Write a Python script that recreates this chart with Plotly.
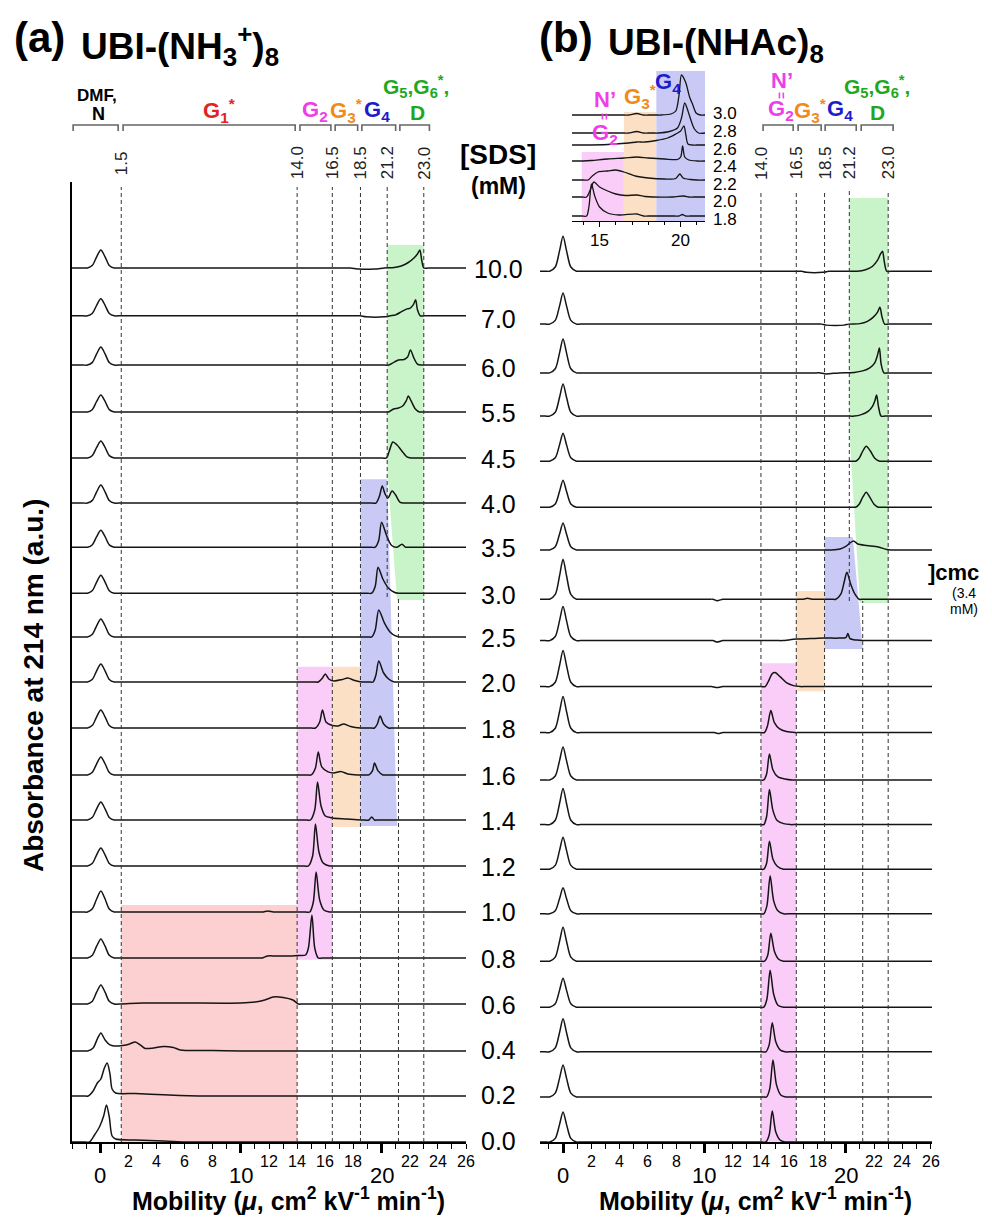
import plotly.graph_objects as go

W, H = 992, 1223
PAGE_MARGIN = 8  # browser body margin around the figure

# ---------------- data ----------------
SDS_LABELS = ["10.0", "7.0", "6.0", "5.5", "4.5", "4.0", "3.5", "3.0", "2.5", "2.0",
              "1.8", "1.6", "1.4", "1.2", "1.0", "0.8", "0.6", "0.4", "0.2", "0.0"]
# baseline offsets (in trace-step units) of each electropherogram
BASE_A = [19.0, 17.96, 16.89, 15.87, 14.87, 13.89, 12.93, 11.93, 10.98, 10.0,
          9.0, 7.98, 7.0, 6.0, 5.0, 4.0, 3.0, 1.98, 1.0, 0.0]
BASE_B = [18.93, 17.78, 16.72, 15.78, 14.8, 13.8, 12.87, 11.8, 10.9, 9.9,
          8.9, 7.87, 6.9, 5.93, 4.96, 3.93, 2.93, 1.96, 0.98, 0.0]
# DMF (neutral marker) peak heights, px
DMF_A = [18, 17, 18, 17, 17, 18, 17, 18, 18, 18, 18, 18, 18, 18, 21, 19, 19, 0, 0, 0]
DMF_B = [35, 31, 34, 32, 28, 27, 27, 40, 34, 36, 36, 33, 36, 32, 26, 34, 29, 33, 32, 30]

# other features: (mobility, height px)
PEAKS_A = [
    [(17.8, 0), (18.4, -1), (19.5, -1), (20.2, 0), (20.9, 0.5), (21.4, 2), (21.9, 5.5), (22.3, 10), (22.55, 14), (22.72, 18), (22.85, 8), (23.0, 0)],
    [(18.5, 0), (18.9, -1), (20.2, -1), (20.6, 0), (21.0, 1), (21.4, 4), (21.8, 7), (22.0, 7.5), (22.25, 11), (22.42, 16), (22.55, 6), (22.75, 0)],
    [(20.5, 0), (20.9, 3), (21.2, 5), (21.6, 5.5), (21.85, 8), (22.05, 15), (22.3, 7), (22.55, 1), (22.8, 0)],
    [(20.5, 0), (20.85, 3), (21.2, 4), (21.5, 6), (21.75, 11), (21.9, 16), (22.1, 11), (22.4, 3), (22.7, 0)],
    [(20.35, 0), (20.55, 7), (20.8, 16), (21.1, 13), (21.5, 6), (21.8, 1), (22.1, 0)],
    [(19.6, 0), (19.85, 7), (20.05, 17), (20.25, 9), (20.45, 5), (20.75, 12), (21.0, 8), (21.3, 1), (21.6, 0)],
    [(19.55, 0), (19.8, 7), (20.0, 25), (20.35, 12), (20.7, 2), (21.1, 0), (21.45, 3), (21.7, 0)],
    [(19.3, 0), (19.55, 7), (19.75, 26), (20.1, 14), (20.5, 5), (20.9, 1), (21.2, 0)],
    [(19.3, 0), (19.55, 7), (19.8, 27), (20.2, 14), (20.6, 5), (21.0, 1), (21.3, 0)],
    [(15.5, 0), (15.8, 4), (16.0, 8), (16.25, 3), (16.6, 1), (17.2, 2.5), (17.6, 4), (18.1, 1.5), (18.6, 0), (19.4, 0), (19.6, 7), (19.8, 21), (20.15, 9), (20.5, 3), (20.9, 0)],
    [(15.3, 0), (15.6, 6), (15.8, 18), (16.05, 6), (16.4, 3), (16.9, 2), (17.3, 4), (17.8, 1.5), (18.5, 0), (19.5, 0), (19.7, 4), (19.9, 12), (20.15, 4), (20.5, 0)],
    [(15.0, 0), (15.3, 7), (15.5, 23), (15.75, 8), (16.2, 3), (16.6, 2), (17.1, 3.5), (17.6, 1), (18.3, 0), (19.1, 0), (19.35, 4), (19.5, 12), (19.75, 4), (20.1, 0)],
    [(14.95, 0), (15.25, 10), (15.45, 38), (15.7, 14), (16.0, 4), (16.5, 2), (17.5, 1), (18.5, 0), (19.1, 0), (19.3, 3), (19.5, 0)],
    [(14.8, 0), (15.1, 10), (15.3, 42), (15.55, 14), (15.85, 3), (16.3, 0)],
    [(11.6, 0), (11.9, 1), (12.3, 0), (14.9, 0), (15.15, 10), (15.35, 40), (15.6, 12), (15.9, 2), (16.3, 0)],
    [(11.5, 0), (11.9, 2), (12.5, 2), (13.5, 2), (14.0, 2.5), (14.6, 3), (14.8, 10), (15.05, 43), (15.25, 10), (15.5, 0)],
    [(1.5, 0), (3.0, 1), (6.0, 1), (10.0, 1), (11.0, 2), (11.7, 4), (12.3, 7), (13.0, 6.5), (13.7, 4), (14.1, 0)],
    [(-0.9, 0), (-0.5, 3), (-0.2, 12), (0.05, 18), (0.35, 11), (0.7, 6), (1.0, 5), (1.6, 5.5), (2.1, 7), (2.5, 9), (2.85, 6), (3.2, 2.5), (3.8, 3), (4.5, 4.5), (5.2, 3.5), (5.7, 1), (8.0, 0.5), (10.0, 0)],
    [(-0.85, 0), (-0.5, 5), (-0.2, 13), (0.05, 17), (0.3, 28), (0.5, 33), (0.7, 22), (0.85, 7), (1.1, 3), (2.5, 2.5), (4.5, 1.2), (7.0, 0)],
    [(-0.75, 0), (-0.4, 7), (-0.05, 15), (0.25, 26), (0.45, 37), (0.65, 25), (0.85, 6), (1.1, 3), (2.5, 2), (4.5, 1), (6.0, 0)],
]

PEAKS_B = [
    [(16.9, 0), (17.2, -1), (18.4, -1), (18.8, 0), (20.8, 0), (21.4, 1.5), (21.9, 5), (22.25, 11), (22.45, 17), (22.6, 20), (22.72, 10), (22.9, 0)],
    [(18.3, 0), (18.6, -1), (19.9, -1), (20.2, 0), (21.0, 0.5), (21.5, 2.5), (21.95, 7), (22.25, 12), (22.42, 17), (22.55, 8), (22.75, 0)],
    [(18.2, 0), (18.6, -1), (19.5, 0), (20.6, 0.5), (21.2, 2), (21.7, 5), (22.05, 10), (22.25, 18), (22.38, 25), (22.5, 9), (22.7, 0)],
    [(20.6, 0), (21.1, 1.5), (21.6, 5), (21.9, 10), (22.05, 15), (22.18, 21), (22.32, 9), (22.5, 0)],
    [(20.7, 0), (20.95, 3), (21.2, 10), (21.45, 15), (21.75, 10), (22.05, 3), (22.4, 0)],
    [(20.7, 0), (20.95, 3), (21.2, 10), (21.45, 15), (21.7, 10), (22.0, 3), (22.3, 0)],
    [(19.0, 0), (19.6, 1), (20.0, 3.5), (20.3, 7), (20.55, 9), (20.85, 6), (21.5, 4.5), (22.3, 3), (22.9, 0.5), (23.2, 0)],
    [(10.6, 0), (10.9, -1.5), (11.3, 0), (17.0, 0), (17.3, 1), (17.6, 0), (19.3, 0), (19.65, 5), (19.9, 18), (20.08, 27), (20.35, 15), (20.65, 5), (20.95, 0)],
    [(10.6, 0), (10.9, -1.5), (11.3, 0), (15.5, 0), (16.5, 1.5), (17.5, 2), (18.5, 2.5), (19.5, 2.5), (20.0, 3), (20.15, 7), (20.3, 2), (20.8, 0.5), (21.2, 0)],
    [(10.5, 0), (10.9, -1), (11.3, 0), (14.3, 0), (14.55, 6), (14.8, 13), (15.0, 14), (15.35, 10), (15.8, 4), (16.3, 1), (16.8, 0)],
    [(10.7, 0), (11.0, -1), (11.3, 0), (14.25, 0), (14.45, 6), (14.7, 22), (14.95, 10), (15.3, 4), (15.8, 1), (16.4, 0)],
    [(14.2, 0), (14.4, 6), (14.6, 26), (14.85, 10), (15.2, 3), (15.7, 1), (16.2, 0)],
    [(14.2, 0), (14.4, 8), (14.6, 35), (14.85, 14), (15.15, 4), (15.6, 1), (16.1, 0)],
    [(14.2, 0), (14.4, 6), (14.6, 28), (14.85, 10), (15.15, 3), (15.6, 0)],
    [(14.2, 0), (14.42, 8), (14.65, 38), (14.9, 13), (15.2, 3), (15.6, 0)],
    [(14.25, 0), (14.48, 6), (14.7, 28), (14.95, 10), (15.25, 2), (15.6, 0)],
    [(14.2, 0), (14.42, 8), (14.65, 37), (14.9, 13), (15.2, 2), (15.6, 0)],
    [(14.35, 0), (14.58, 7), (14.8, 29), (15.05, 10), (15.35, 2), (15.7, 0)],
    [(14.4, 0), (14.62, 8), (14.85, 37), (15.1, 12), (15.4, 2), (15.75, 0)],
    [(14.35, 0), (14.58, 7), (14.8, 31), (15.05, 10), (15.35, 2), (15.7, 0)],
]

# inset of panel (b): 1.8-3.0 mM, zoom on 13.3-21.5
INSET_LABELS = ["3.0", "2.8", "2.6", "2.4", "2.2", "2.0", "1.8"]
INSET_BASE = [106, 88, 76, 60, 41, 24, 5]
INSET_PEAKS = [
    [(16.8, 0), (17.3, 1.5), (17.7, 0), (18.8, 0), (19.4, 1), (19.7, 4), (19.9, 20), (20.05, 40), (20.3, 33), (20.55, 18), (20.75, 10), (20.95, 2), (21.2, 0)],
    [(16.8, 0), (17.3, 1.5), (17.7, 0), (18.6, 0), (19.3, 1.5), (19.8, 5), (20.05, 15), (20.25, 30), (20.45, 22), (20.65, 12), (20.85, 4), (21.1, 0)],
    [(14.0, 0), (15.5, 0.5), (16.8, 2), (17.3, 3), (17.8, 3), (18.5, 4.5), (19.2, 7), (19.7, 11), (20.0, 14), (20.2, 19), (20.32, 10), (20.45, 1), (20.7, 0)],
    [(14.0, 0), (14.5, 0.5), (15.5, 2), (16.5, 3), (17.3, 4), (18.0, 3), (19.0, 2), (19.8, 1.5), (20.0, 4), (20.12, 15), (20.25, 4), (20.5, 1), (21.0, 0)],
    [(14.3, 0), (14.55, 4), (14.9, 8), (15.5, 9), (16.0, 10), (16.5, 8), (17.2, 4), (18.0, 2), (19.0, 1), (19.7, 1.5), (19.95, 6), (20.15, 2), (20.6, 0.5), (21.0, 0)],
    [(14.2, 0), (14.45, 8), (14.65, 15), (15.0, 10), (15.5, 6), (16.0, 3), (16.6, 1.5), (17.3, 2), (17.8, 0.5), (19.5, 0), (20.2, 1), (20.5, 0)],
    [(14.2, 0), (14.35, 10), (14.5, 32), (14.7, 20), (15.0, 9), (15.5, 3), (16.2, 1), (17.3, 2), (17.7, 0), (19.9, 0), (20.1, 1.5), (20.3, 0)],
]

# region boundaries (mobility) and labels
BOUND_A = [1.5, 14.0, 16.5, 18.5, 20.4, 23.0]
BOUND_A_TEXT = ["1.5", "14.0", "16.5", "18.5", "21.2", "23.0"]
BOUND_B = [14.0, 16.5, 18.5, 20.25, 23.0]
BOUND_B_TEXT = ["14.0", "16.5", "18.5", "21.2", "23.0"]
TRUE_212 = 21.2

# shaded regions: (colour, x list, y list in trace-step units)
SHADE_A = [
    ("#fcd0d0", [1.5, 14.0, 14.0, 1.5], [0, 0, 5.15, 5.15]),
    ("#f9cdf7", [14.0, 16.5, 16.5, 14.0], [3.96, 3.96, 10.33, 10.33]),
    ("#fce0c6", [16.5, 18.5, 18.5, 16.5], [6.85, 6.85, 10.33, 10.33]),
    ("#c9c9f6", [18.5, 21.1, 20.4, 18.5], [6.87, 6.87, 14.41, 14.41]),
    ("#c9f4c9", [21.1, 23.0, 23.0, 20.4, 20.4], [11.78, 11.78, 19.5, 19.5, 14.6]),
]
SHADE_B = [
    ("#f9cdf7", [14.0, 16.5, 16.5, 14.0], [0, 0, 10.41, 10.41]),
    ("#fce0c6", [16.5, 18.5, 18.5, 16.5], [9.8, 9.8, 11.98, 11.98]),
    ("#c9c9f6", [18.5, 21.2, 20.5, 18.5], [10.72, 10.72, 13.15, 13.15]),
    ("#c9f4c9", [21.0, 23.0, 23.0, 20.25, 20.25], [11.72, 11.72, 20.52, 20.52, 15.46]),
]
SHADE_INSET = [
    ("#f9cdf7", [13.9, 16.5, 16.5, 13.9], [0, 0, 69, 69]),
    ("#fce0c6", [16.5, 18.5, 18.5, 16.5], [0, 0, 109, 109]),
    ("#c9c9f6", [18.5, 21.5, 21.5, 18.5], [0, 0, 150, 150]),
]

# ---------------- helpers ----------------
STEP_PX = 46.0
FONT = "Liberation Sans, Arial, sans-serif"
C_RED, C_MAG, C_ORA, C_BLU, C_GRN = "#e2231f", "#ee3ee9", "#f28a1a", "#1c1ccb", "#1fa81f"
FW, FH = W - 2 * PAGE_MARGIN, H - 2 * PAGE_MARGIN


def px(xp):
    return (xp - PAGE_MARGIN) / FW


def py(yp):
    return 1 - (yp - PAGE_MARGIN) / FH


def make_xy(points, dmf_h, profile, xmin, xmax):
    pts = list(points)
    if dmf_h:
        pts += [(dx, f * dmf_h) for dx, f in profile]
    pts.sort()
    pts = [(xmin, 0.0)] + [p for p in pts if xmin < p[0] < xmax] + [(xmax, 0.0)]
    out = []
    n = len(pts)
    for i, (x, h) in enumerate(pts):
        if h == 0 and 0 < i < n - 1:
            xp_, hp = pts[i - 1]
            xn, hn = pts[i + 1]
            if hp != 0 and hn == 0 and xn - x > 0.6:
                out += [(x, h), (x + 0.3, 0.0)]
                continue
            if hn != 0 and hp == 0 and x - xp_ > 0.6:
                out += [(x - 0.3, 0.0), (x, h)]
                continue
        out.append((x, h))
    return [p[0] for p in out], [p[1] for p in out]


PROFILE_A = [(-0.9, 0), (-0.55, 0.15), (-0.25, 0.62), (0.05, 1.0), (0.35, 0.62), (0.65, 0.14), (1.0, 0)]
PROFILE_B = [(-0.95, 0), (-0.55, 0.12), (-0.25, 0.58), (0.0, 1.0), (0.25, 0.58), (0.55, 0.12), (0.95, 0)]

fig = go.Figure()
LINE = dict(color="#151515", width=1.5)

for i in range(len(SDS_LABELS)):
    xs, hs = make_xy(PEAKS_A[i], DMF_A[i], PROFILE_A, -2.0, 26.0)
    fig.add_trace(go.Scatter(x=xs, y=[BASE_A[i] + h / STEP_PX for h in hs], mode="lines",
                             line=dict(**LINE, shape="spline", smoothing=0.8),
                             xaxis="x", yaxis="y", showlegend=False, hoverinfo="skip"))
    xs, hs = make_xy(PEAKS_B[i], DMF_B[i], PROFILE_B, -1.63, 26.1)
    fig.add_trace(go.Scatter(x=xs, y=[BASE_B[i] + h / STEP_PX for h in hs], mode="lines",
                             line=dict(**LINE, shape="spline", smoothing=0.8),
                             xaxis="x2", yaxis="y2", showlegend=False, hoverinfo="skip"))

for i in range(len(INSET_LABELS)):
    xs, hs = make_xy(INSET_PEAKS[i], 0, None, 13.3, 21.5)
    fig.add_trace(go.Scatter(x=xs, y=[INSET_BASE[i] + h for h in hs], mode="lines",
                             line=dict(color="#151515", width=1.3, shape="spline", smoothing=0.8),
                             xaxis="x3", yaxis="y3", showlegend=False, hoverinfo="skip"))

shapes = []


def poly(color, xs, ys, xr, yr):
    d = "M " + " L ".join(f"{x},{y}" for x, y in zip(xs, ys)) + " Z"
    return dict(type="path", path=d, xref=xr, yref=yr, fillcolor=color,
                line=dict(width=0), layer="below")


for c, xs, ys in SHADE_A:
    shapes.append(poly(c, xs, ys, "x", "y"))
for c, xs, ys in SHADE_B:
    shapes.append(poly(c, xs, ys, "x2", "y2"))
for c, xs, ys in SHADE_INSET:
    shapes.append(poly(c, xs, ys, "x3", "y3"))

DASH = dict(color="#333333", width=1, dash="4px,3px")
TOP_A = (1142 - 187) / STEP_PX
TOP_B = (1141 - 190) / STEP_PX
SPLIT_A = (1142 - 597) / STEP_PX
SPLIT_B = (1141 - 600) / STEP_PX
for xv in BOUND_A:
    y1 = SPLIT_A if xv == 20.4 else 0
    shapes.append(dict(type="line", x0=xv, x1=xv, y0=y1, y1=TOP_A, xref="x", yref="y", line=DASH))
shapes.append(dict(type="line", x0=TRUE_212, x1=TRUE_212, y0=0, y1=SPLIT_A, xref="x", yref="y", line=DASH))
for xv in BOUND_B:
    y1 = SPLIT_B if xv == 20.25 else 0
    shapes.append(dict(type="line", x0=xv, x1=xv, y0=y1, y1=TOP_B, xref="x2", yref="y2", line=DASH))
shapes.append(dict(type="line", x0=TRUE_212, x1=TRUE_212, y0=0, y1=SPLIT_B, xref="x2", yref="y2", line=DASH))

# brackets over group ranges
BRACKETS_A = [(-1.92, 1.28), (1.63, 13.86), (14.2, 16.4), (16.7, 18.3), (18.6, 21.0), (21.3, 23.4)]
BRACKETS_B = [(14.15, 16.28), (16.63, 18.26), (18.54, 20.74), (21.09, 23.35)]
yb_top, yb_bot = py(125), py(131)
for xr, br in (("x", BRACKETS_A), ("x2", BRACKETS_B)):
    for a, b in br:
        shapes.append(dict(type="path", xref=xr, yref="paper",
                           path=f"M {a},{yb_bot} L {a},{yb_top} L {b},{yb_top} L {b},{yb_bot}",
                           line=dict(color="#666666", width=1.6)))

ann = []


def txt(x, y, text, size, color="black", xref="paper", yref="paper", xanchor="center",
        yanchor="middle", angle=0):
    ann.append(dict(x=x, y=y, text=text, xref=xref, yref=yref, showarrow=False,
                    xanchor=xanchor, yanchor=yanchor, textangle=angle,
                    font=dict(family=FONT, size=size, color=color)))


# titles
txt(px(12), py(38), "<b>(a)</b>", 42, xanchor="left")
txt(px(79), py(45), "<b>UBI-(NH<sub>3</sub><sup>+</sup>)<sub>8</sub></b>", 37, xanchor="left")
txt(px(537), py(38), "<b>(b)</b>", 42, xanchor="left")
txt(px(606), py(45), "<b>UBI-(NHAc)<sub>8</sub></b>", 37, xanchor="left")

# group labels, panel a
txt(px(97), py(95), "<b>DMF,</b>", 17)
txt(px(98), py(114), "<b>N</b>", 18)
txt(px(219), py(110), "<b>G<sub>1</sub><sup>*</sup></b>", 22, C_RED)
txt(px(315), py(111), "<b>G<sub>2</sub></b>", 22, C_MAG)
txt(px(346), py(111), "<b>G<sub>3</sub><sup>*</sup></b>", 22, C_ORA)
txt(px(377), py(111), "<b>G<sub>4</sub></b>", 22, C_BLU)
txt(px(416), py(87), "<b>G<sub>5</sub>,G<sub>6</sub><sup>*</sup>,</b>", 21, C_GRN)
txt(px(417), py(113), "<b>D</b>", 21, C_GRN)
# group labels, panel b
txt(px(782), py(80), "<b>N’</b>", 22, C_MAG)
txt(px(781), py(95), "<b>=</b>", 12, C_MAG, angle=90)
txt(px(781), py(110), "<b>G<sub>2</sub></b>", 22, C_MAG)
txt(px(810), py(110), "<b>G<sub>3</sub><sup>*</sup></b>", 22, C_ORA)
txt(px(840), py(110), "<b>G<sub>4</sub></b>", 22, C_BLU)
txt(px(877), py(87), "<b>G<sub>5</sub>,G<sub>6</sub><sup>*</sup>,</b>", 21, C_GRN)
txt(px(877), py(113), "<b>D</b>", 21, C_GRN)
# inset group labels
txt(px(605), py(100), "<b>N’</b>", 22, C_MAG)
txt(px(604), py(116), "<b>=</b>", 12, C_MAG, angle=90)
txt(px(605), py(134), "<b>G<sub>2</sub></b>", 22, C_MAG)
txt(px(640), py(97), "<b>G<sub>3</sub><sup>*</sup></b>", 22, C_ORA)
txt(px(668), py(83), "<b>G<sub>4</sub></b>", 22, C_BLU)

# rotated boundary values
for xv, t in zip(BOUND_A, BOUND_A_TEXT):
    txt(xv, py(163), t, 17, "#222222", xref="x", angle=-90)
for xv, t in zip(BOUND_B, BOUND_B_TEXT):
    txt(xv, py(163), t, 17, "#222222", xref="x2", angle=-90)

# [SDS] labels (positioned in paper units so the bottom one is not hidden)
txt(px(498), py(154), "<b>[SDS]</b>", 28)
txt(px(498), py(186), "<b>(mM)</b>", 23)
YDOM = [py(1142), py(182)]
YRANGE = [0, (1142 - 182) / STEP_PX]
for i, lab in enumerate(SDS_LABELS):
    yv = (BASE_A[i] + BASE_B[i]) / 2
    ypaper = YDOM[0] + (YDOM[1] - YDOM[0]) * yv / YRANGE[1] + 1.0 / FH
    txt(px(498), ypaper, lab, 25)
for i, lab in enumerate(INSET_LABELS):
    txt(px(711), py(114 + 17.6 * i), lab, 17, xanchor="left")

# cmc note
txt(px(926), py(572), "<b>]cmc</b>", 22, xanchor="left")
txt(px(964), py(593), "(3.4", 14)
txt(px(964), py(609), "mM)", 14)

# axis tick labels
MAJOR_TICKS = [0, 10, 20]
MINOR_TICK_LABELS = [2, 4, 6, 8, 12, 14, 16, 18, 22, 24, 26]
for xr in ("x", "x2"):
    for v in MAJOR_TICKS:
        txt(v, py(1175), str(v), 22, xref=xr)
    for v in MINOR_TICK_LABELS:
        txt(v, py(1161), str(v), 16, xref=xr)
INSET_TICKS = [15, 20]
for v in INSET_TICKS:
    txt(v, py(240), str(v), 17, xref="x3")

# axis titles
XT = "<b>Mobility (<i>μ</i>, cm<sup>2</sup> kV<sup>-1</sup> min<sup>-1</sup>)</b>"
txt(px(288), py(1199), XT, 25)
txt(px(755), py(1199), XT, 25)
txt(px(33), py(686), "<b>Absorbance at 214 nm (a.u.)</b>", 28, angle=-90)

xcommon = dict(showgrid=False, zeroline=False, showline=True, linecolor="black", linewidth=2,
               ticks="outside", tickvals=MAJOR_TICKS, ticklen=9, tickwidth=2.5, tickcolor="black",
               showticklabels=False,
               minor=dict(tickmode="linear", tick0=0, dtick=1, ticks="outside", ticklen=5,
                          tickwidth=1.2, tickcolor="black"))

fig.update_layout(
    width=FW, height=FH, margin=dict(l=0, r=0, t=0, b=0),
    paper_bgcolor="white", plot_bgcolor="rgba(0,0,0,0)",
    font=dict(family=FONT, color="black"),
    xaxis=dict(domain=[px(72), px(466)], range=[-2.0, 26.0], anchor="y", **xcommon),
    yaxis=dict(domain=YDOM, range=YRANGE, anchor="x", showgrid=False, zeroline=False,
               showline=True, linecolor="black", linewidth=2, ticks="", showticklabels=False),
    xaxis2=dict(domain=[px(540), px(932)], range=[-1.63, 26.1], anchor="y2", **xcommon),
    yaxis2=dict(domain=YDOM, range=YRANGE, anchor="x2", visible=False),
    xaxis3=dict(domain=[px(572), px(705)], range=[13.3, 21.5], anchor="y3", showgrid=False,
                zeroline=False, showline=True, linecolor="black", linewidth=1.3,
                ticks="outside", tickvals=INSET_TICKS, ticklen=5, tickwidth=1.3, tickcolor="black",
                showticklabels=False,
                minor=dict(tickmode="linear", tick0=0, dtick=1, ticks="outside", ticklen=3,
                           tickwidth=1, tickcolor="black")),
    yaxis3=dict(domain=[py(221), py(61)], range=[0, 160], anchor="x3", visible=False),
    shapes=shapes, annotations=ann,
)

fig.write_html("out.html")
